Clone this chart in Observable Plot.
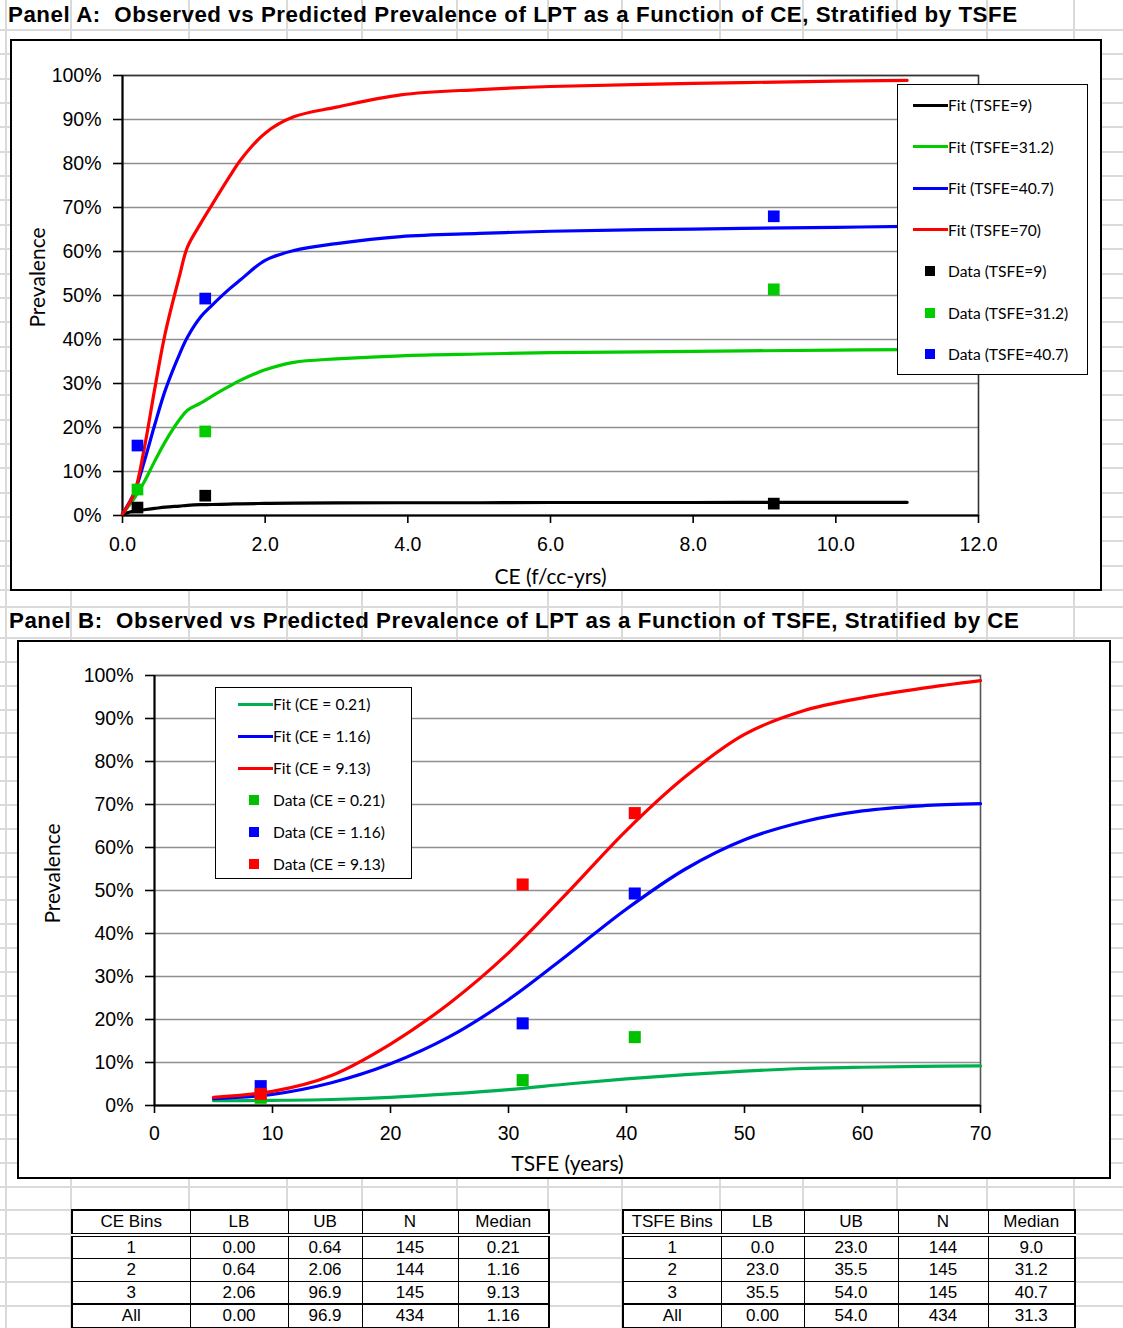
<!DOCTYPE html>
<html>
<head>
<meta charset="utf-8">
<script src="https://cdn.jsdelivr.net/npm/d3@7"></script>
<script src="https://cdn.jsdelivr.net/npm/@observablehq/plot@0.6"></script>
<style>
html, body { margin: 0; padding: 0; background: #fff; }
body { width: 1123px; height: 1328px; position: relative; overflow: hidden; font-family: "Liberation Sans", Arial, sans-serif; color: #000; }
.gv { position: absolute; top: 0; width: 2px; height: 1328px; background: #dadada; }
.gh { position: absolute; left: 0; width: 1123px; height: 2px; background: #dadada; }
.title { position: absolute; font-weight: bold; font-size: 22.3px; letter-spacing: 0.55px; white-space: pre; line-height: 26px; }
.box { position: absolute; border: 2px solid #000; background: #fff; box-sizing: border-box; }
.box svg { position: absolute; left: 0; top: 0; }
.legend { position: absolute; border: 1px solid #000; background: #fff; box-sizing: border-box; font-family: Lato, "Open Sans", sans-serif; font-size: 15.6px; }
.legend .ln { position: absolute; height: 3px; }
.legend .mk { position: absolute; width: 10px; height: 10px; }
.legend .tx { position: absolute; line-height: 20px; white-space: pre; }
table.bins { position: absolute; border-collapse: collapse; table-layout: fixed; font-size: 17px; background: #fff; border: 2.5px solid #000; }
table.bins td { border: 1.5px solid #000; padding: 0; height: 21.5px; line-height: 21.5px; text-align: center; }
table.bins tr.hdr td { border-bottom: 4px double #000; }
table.bins tr.all td { border-top: 2.5px solid #000; }
</style>
</head>
<body>
<script>
// ---------------- DATA ----------------
// Panel A: fitted prevalence (%) vs CE (f/cc-yrs), one curve per TSFE
const ceGrid = [0, 0.16, 0.3, 0.45, 0.6, 0.8, 0.91, 1.1, 1.25, 1.5, 1.65, 2.0, 2.4, 3.0, 3.9, 5, 6, 8, 10, 11];
const fitTsfe9   = [0.3, 1.0, 1.3, 1.6, 1.9, 2.15, 2.3, 2.45, 2.5, 2.6, 2.65, 2.75, 2.8, 2.85, 2.9, 2.9, 2.95, 2.95, 3.0, 3.0];
const fitTsfe312 = [0.4, 3.8, 7.5, 12.3, 16.8, 21.8, 23.9, 25.6, 27.1, 29.4, 30.7, 33.1, 34.8, 35.6, 36.3, 36.7, 37.0, 37.3, 37.6, 37.7];
const fitTsfe407 = [0.4, 5.0, 12.0, 20.5, 28.5, 36.7, 40.5, 45.2, 47.7, 51.5, 53.5, 58.0, 60.2, 61.8, 63.4, 64.1, 64.6, 65.1, 65.5, 65.7];
const fitTsfe70  = [0.4, 4.9, 14.8, 28.6, 41.5, 54.5, 61.0, 66.5, 70.5, 77.0, 80.7, 86.9, 90.6, 92.8, 95.6, 96.8, 97.5, 98.2, 98.7, 98.9];

// Panel B: fitted prevalence (%) vs TSFE (years), one curve per CE
const tsfeGrid = [5, 10, 15, 20, 25, 30, 35, 40, 45, 50, 55, 60, 65, 70];
const fitCe021 = [1.1, 1.2, 1.4, 1.9, 2.7, 3.7, 5.0, 6.2, 7.2, 8.0, 8.6, 8.9, 9.1, 9.2];
const fitCe116 = [1.6, 2.6, 5.3, 9.7, 16.0, 24.6, 35.0, 45.7, 55.0, 61.8, 66.0, 68.5, 69.7, 70.2];
const fitCe913 = [1.9, 3.3, 7.0, 14.3, 23.8, 35.5, 49.5, 64.0, 76.5, 86.3, 91.8, 94.8, 97.0, 98.8];

// Observed prevalence (%) by TSFE bin (rows) and CE bin (columns)
const obsTsfe9   = [1.8, 4.5, 2.7];
const obsTsfe312 = [5.9, 19.1, 51.4];
const obsTsfe407 = [15.9, 49.3, 68.0];

// Bin tables
const ceBins    = ["1", "2", "3", "All"];
const ceLB      = ["0.00", "0.64", "2.06", "0.00"];
const ceUB      = ["0.64", "2.06", "96.9", "96.9"];
const ceN       = ["145", "144", "145", "434"];
const ceMedian  = ["0.21", "1.16", "9.13", "1.16"];
const tsfeBins   = ["1", "2", "3", "All"];
const tsfeLB     = ["0.0", "23.0", "35.5", "0.00"];
const tsfeUB     = ["23.0", "35.5", "54.0", "54.0"];
const tsfeN      = ["144", "145", "145", "434"];
const tsfeMedian = ["9.0", "31.2", "40.7", "31.3"];

// Tick values
const ceTicks = [0, 2, 4, 6, 8, 10, 12];
const tsfeTicks = [0, 10, 20, 30, 40, 50, 60, 70];
const prevTicks = [0, 10, 20, 30, 40, 50, 60, 70, 80, 90, 100];

// Series labels
const fitLabelsA = ["TSFE=9", "TSFE=31.2", "TSFE=40.7", "TSFE=70"];
const dataLabelsA = ["TSFE=9", "TSFE=31.2", "TSFE=40.7"];
const labelsB = ["CE = 0.21", "CE = 1.16", "CE = 9.13"];

// ---------------- STYLE ----------------
const colorsA = ["#000000", "#00cc00", "#0000ff", "#ff0000"];
const lineColorsB = ["#00b050", "#0000ff", "#ff0000"];
const dotColorsB = ["#00c000", "#0000ff", "#ff0000"];
const tickFont = "'Liberation Sans', Arial, sans-serif";
const titleFont = "Lato, 'Open Sans', sans-serif";

// ---------------- BACKGROUND GRID (spreadsheet) ----------------
const colEdges = [6, 71, 189, 287, 362, 457, 548, 622, 720, 803, 897, 987, 1074];
colEdges.forEach(x => { const d = document.createElement("div"); d.className = "gv"; d.style.left = (x - 1) + "px"; document.body.appendChild(d); });
const rowEdges = [30];
for (let y = 30 + 24.35; y < 600; y += 24.35) rowEdges.push(y);
rowEdges.push(607, 638);
for (let y = 638 + 23.85; y < 1328; y += 23.85) rowEdges.push(y);
rowEdges.forEach(y => { const d = document.createElement("div"); d.className = "gh"; d.style.top = (y - 1) + "px"; document.body.appendChild(d); });

function addDiv(cls, css, html) {
  const d = document.createElement("div");
  d.className = cls;
  Object.assign(d.style, css);
  if (html != null) d.textContent = html;
  document.body.appendChild(d);
  return d;
}

// ---------------- PANEL A ----------------
addDiv("title", {left: "8px", top: "2px"}, "Panel A:  Observed vs Predicted Prevalence of LPT as a Function of CE, Stratified by TSFE");
const boxA = addDiv("box", {left: "10px", top: "39px", width: "1092px", height: "552px"});

const fitsA = [fitTsfe9, fitTsfe312, fitTsfe407, fitTsfe70];
const obsA = [obsTsfe9, obsTsfe312, obsTsfe407];
const ceMedVals = ceMedian.slice(0, 3).map(Number);
const tsfeMedVals = tsfeMedian.slice(0, 3).map(Number);

const lineRowsA = fitsA.flatMap((vals, s) => vals.map((v, i) => ({x: ceGrid[i], y: v, s})));
const dotRowsA = obsA.flatMap((vals, s) => vals.map((v, i) => ({x: ceMedVals[i], y: v, s})));

const plotA = Plot.plot({
  width: 1088, height: 548,
  marginLeft: 110, marginRight: 122, marginTop: 34, marginBottom: 74,
  x: {domain: [0, 12]},
  y: {domain: [0, 100]},
  style: {fontFamily: tickFont, fontSize: "19.5px", background: "transparent", color: "#000", overflow: "visible"},
  marks: [
    Plot.gridY(prevTicks, {stroke: "#8f8f8f", strokeOpacity: 1, strokeWidth: 1.6}),
    Plot.frame({stroke: "#333", strokeWidth: 1.6}),
    Plot.ruleX([0], {stroke: "#000", strokeWidth: 2}),
    Plot.ruleY([0], {stroke: "#000", strokeWidth: 2}),
    Plot.axisY(prevTicks, {tickFormat: d => d + "%", tickSize: 9, tickPadding: 12, label: null, strokeWidth: 1.6}),
    Plot.axisX(ceTicks, {tickFormat: d3.format(".1f"), tickSize: 8, tickPadding: 14, label: null, strokeWidth: 1.6}),
    ...fitsA.map((_, s) => Plot.line(lineRowsA.filter(d => d.s === s), {x: "x", y: "y", stroke: colorsA[s], strokeWidth: 3.2, curve: "catmull-rom"})),
    ...obsA.map((_, s) => Plot.dot(dotRowsA.filter(d => d.s === s), {x: "x", y: "y", fill: colorsA[s], symbol: "square", r: 6.6})),
    Plot.text(["CE (f/cc-yrs)"], {text: d => d, frameAnchor: "bottom", textAnchor: "middle", lineAnchor: "middle", dy: 62, fontFamily: titleFont, fontSize: 21}),
    Plot.text(["Prevalence"], {text: d => d, frameAnchor: "left", textAnchor: "middle", lineAnchor: "middle", dx: -84, dy: -18, rotate: -90, fontFamily: titleFont, fontSize: 21})
  ]
});
boxA.appendChild(plotA);

// Legend A
const legA = addDiv("legend", {left: "897px", top: "84px", width: "191px", height: "291px"});
const legAItems = [
  ...fitLabelsA.map((l, i) => ({type: "line", color: colorsA[i], text: "Fit (" + l + ")"})),
  ...dataLabelsA.map((l, i) => ({type: "dot", color: colorsA[i], text: "Data (" + l + ")"}))
];
legAItems.forEach((it, i) => {
  const cy = 20 + i * 41.5;
  if (it.type === "line") {
    const e = document.createElement("div"); e.className = "ln";
    Object.assign(e.style, {left: "15px", width: "35px", top: (cy - 1.5) + "px", background: it.color});
    legA.appendChild(e);
  } else {
    const e = document.createElement("div"); e.className = "mk";
    Object.assign(e.style, {left: "27px", top: (cy - 5) + "px", background: it.color});
    legA.appendChild(e);
  }
  const t = document.createElement("div"); t.className = "tx";
  Object.assign(t.style, {left: "50px", top: (cy - 10) + "px"});
  t.textContent = it.text;
  legA.appendChild(t);
});

// ---------------- PANEL B ----------------
addDiv("title", {left: "9px", top: "608px"}, "Panel B:  Observed vs Predicted Prevalence of LPT as a Function of TSFE, Stratified by CE");
const boxB = addDiv("box", {left: "17px", top: "640px", width: "1094px", height: "539px"});

const fitsB = [fitCe021, fitCe116, fitCe913];
const lineRowsB = fitsB.flatMap((vals, s) => vals.map((v, i) => ({x: tsfeGrid[i], y: v, s})));
// observed: for CE bin s, values across TSFE bins
const dotRowsB = [0, 1, 2].flatMap(s => obsA.map((row, j) => ({x: tsfeMedVals[j], y: row[s], s})));

const plotB = Plot.plot({
  width: 1090, height: 535,
  marginLeft: 135, marginRight: 129, marginTop: 33, marginBottom: 72,
  x: {domain: [0, 70]},
  y: {domain: [0, 100]},
  style: {fontFamily: tickFont, fontSize: "19.5px", background: "transparent", color: "#000", overflow: "visible"},
  marks: [
    Plot.gridY(prevTicks, {stroke: "#8f8f8f", strokeOpacity: 1, strokeWidth: 1.6}),
    Plot.frame({stroke: "#555", strokeWidth: 1.6}),
    Plot.ruleX([0], {stroke: "#000", strokeWidth: 2}),
    Plot.ruleY([0], {stroke: "#000", strokeWidth: 2}),
    Plot.axisY(prevTicks, {tickFormat: d => d + "%", tickSize: 9, tickPadding: 12, label: null, strokeWidth: 1.6}),
    Plot.axisX(tsfeTicks, {tickFormat: d => String(d), tickSize: 8, tickPadding: 13, label: null, strokeWidth: 1.6}),
    ...fitsB.map((_, s) => Plot.line(lineRowsB.filter(d => d.s === s), {x: "x", y: "y", stroke: lineColorsB[s], strokeWidth: 3.2, curve: "catmull-rom"})),
    ...fitsB.map((_, s) => Plot.dot(dotRowsB.filter(d => d.s === s), {x: "x", y: "y", fill: dotColorsB[s], symbol: "square", r: 6.8})),
    Plot.text(["TSFE (years)"], {text: d => d, frameAnchor: "bottom", textAnchor: "middle", lineAnchor: "middle", dy: 59, fontFamily: titleFont, fontSize: 21}),
    Plot.text(["Prevalence"], {text: d => d, frameAnchor: "left", textAnchor: "middle", lineAnchor: "middle", dx: -101, dy: -17, rotate: -90, fontFamily: titleFont, fontSize: 21})
  ]
});
boxB.appendChild(plotB);

// Legend B
const legB = addDiv("legend", {left: "215px", top: "687px", width: "197px", height: "192px"});
const legBItems = [
  ...labelsB.map((l, i) => ({type: "line", color: lineColorsB[i], text: "Fit (" + l + ")"})),
  ...labelsB.map((l, i) => ({type: "dot", color: dotColorsB[i], text: "Data (" + l + ")"}))
];
legBItems.forEach((it, i) => {
  const cy = 16 + i * 32;
  if (it.type === "line") {
    const e = document.createElement("div"); e.className = "ln";
    Object.assign(e.style, {left: "22px", width: "35px", top: (cy - 1.5) + "px", background: it.color});
    legB.appendChild(e);
  } else {
    const e = document.createElement("div"); e.className = "mk";
    Object.assign(e.style, {left: "33px", top: (cy - 5) + "px", background: it.color});
    legB.appendChild(e);
  }
  const t = document.createElement("div"); t.className = "tx";
  Object.assign(t.style, {left: "57px", top: (cy - 10) + "px"});
  t.textContent = it.text;
  legB.appendChild(t);
});

// ---------------- TABLES ----------------
function makeTable(left, widths, header, cols) {
  const tbl = document.createElement("table");
  tbl.className = "bins";
  Object.assign(tbl.style, {left: left + "px", top: "1209px", width: widths.reduce((a, b) => a + b, 0) + "px"});
  const cg = document.createElement("colgroup");
  widths.forEach(w => { const c = document.createElement("col"); c.style.width = w + "px"; cg.appendChild(c); });
  tbl.appendChild(cg);
  const hr = document.createElement("tr"); hr.className = "hdr";
  header.forEach(h => { const td = document.createElement("td"); td.textContent = h; hr.appendChild(td); });
  tbl.appendChild(hr);
  for (let r = 0; r < cols[0].length; r++) {
    const tr = document.createElement("tr");
    if (cols[0][r] === "All") tr.className = "all";
    cols.forEach(c => { const td = document.createElement("td"); td.textContent = c[r]; tr.appendChild(td); });
    tbl.appendChild(tr);
  }
  document.body.appendChild(tbl);
}
makeTable(71, [118, 98, 74, 96, 91], ["CE Bins", "LB", "UB", "N", "Median"], [ceBins, ceLB, ceUB, ceN, ceMedian]);
makeTable(622, [98, 83, 94, 90, 87], ["TSFE Bins", "LB", "UB", "N", "Median"], [tsfeBins, tsfeLB, tsfeUB, tsfeN, tsfeMedian]);
</script>
</body>
</html>
